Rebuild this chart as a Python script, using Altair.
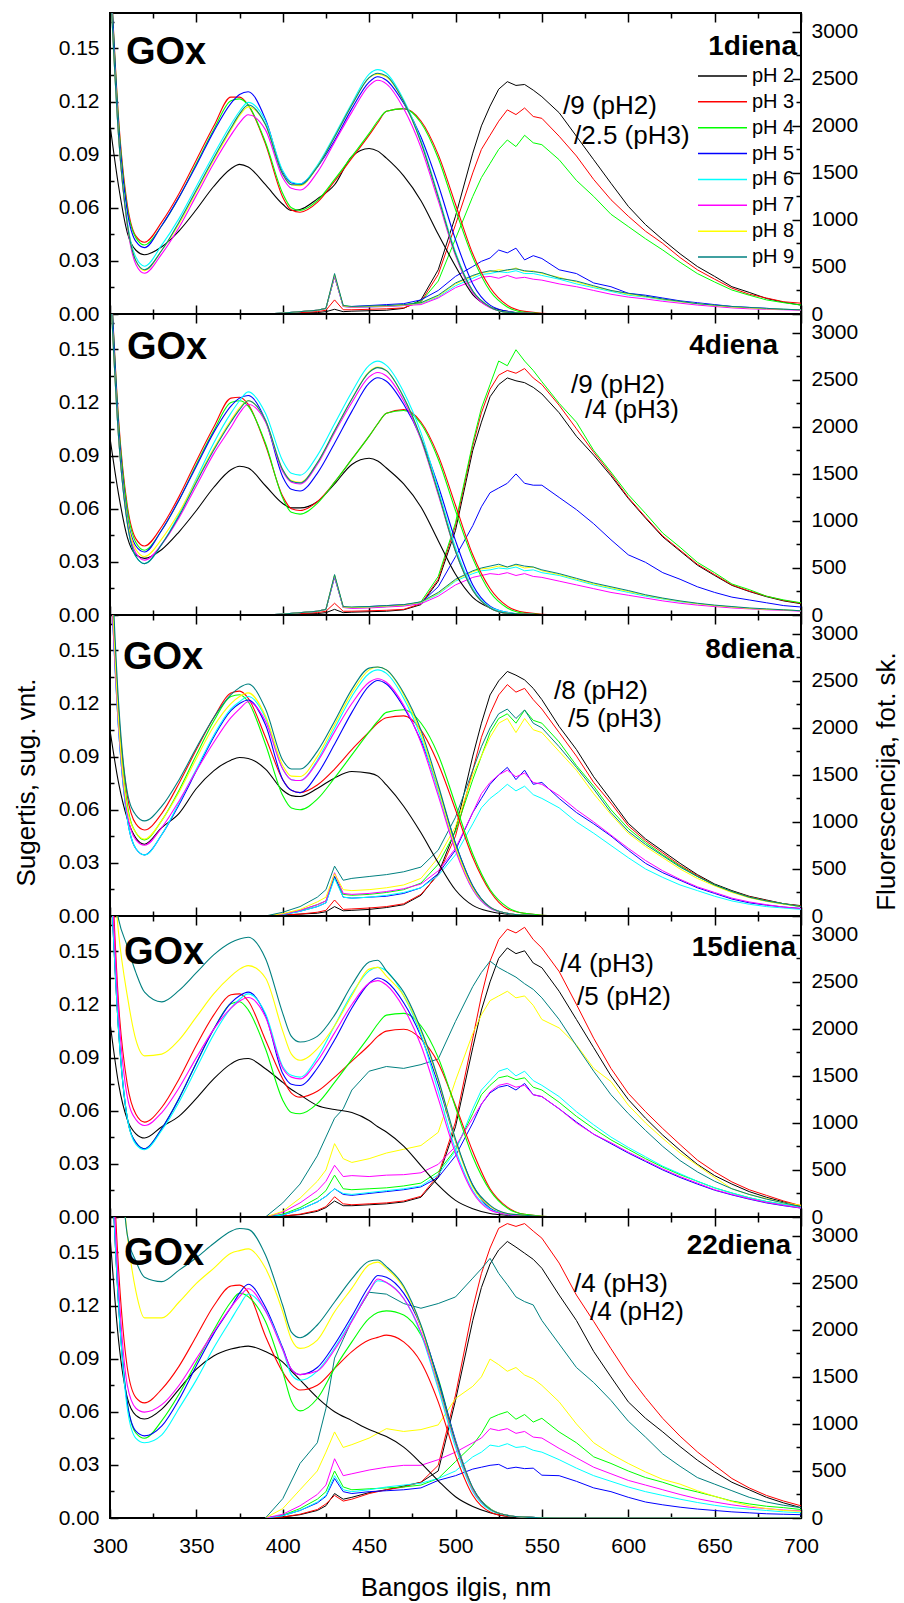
import altair as alt
import pandas as pd

FONT = "Liberation Sans"
PH = ["pH 2", "pH 3", "pH 4", "pH 5", "pH 6", "pH 7", "pH 8", "pH 9"]
COLORS = ["#000000", "#FF0000", "#00FF00", "#0000FF", "#00FFFF", "#FF00FF", "#FFFF00", "#008080"]
DAYS = ["1diena", "4diena", "8diena", "15diena", "22diena"]
NOTES = [("/9 (pH2)", "/2.5 (pH3)"), ("/9 (pH2)", "/4 (pH3)"), ("/8 (pH2)", "/5 (pH3)"),
         ("/4 (pH3)", "/5 (pH2)"), ("/4 (pH3)", "/4 (pH2)")]

X_LABELS = [300, 350, 400, 450, 500, 550, 600, 650, 700]
X_TICKS = [300, 325, 350, 375, 400, 425, 450, 475, 500, 525, 550, 575, 600, 625, 650, 675, 700]
A_LABELS = [0.0, 0.03, 0.06, 0.09, 0.12, 0.15]
A_TICKS = [0.0, 0.015, 0.03, 0.045, 0.06, 0.075, 0.09, 0.105, 0.12, 0.135, 0.15, 0.165]
F_LABELS = [0, 500, 1000, 1500, 2000, 2500, 3000]
F_TICKS = [0, 250, 500, 750, 1000, 1250, 1500, 1750, 2000, 2250, 2500, 2750, 3000]

ABS_X = [300, 305, 310, 315, 320, 330, 340, 350, 360, 370, 375, 380, 390, 400, 405, 410,
         420, 430, 440, 450, 455, 460, 470, 480, 490, 500, 510, 520, 530, 540, 560, 700]
FL_X = [390, 400, 410, 420, 425, 430, 435, 440, 450, 460, 470, 480, 490, 500, 510, 515, 520, 525, 530,
        535, 540, 545, 550, 560, 570, 580, 590, 600, 610, 620, 630, 640, 650, 660, 670, 680, 690, 700]

# ---------------- 1 diena ----------------
abs_1 = {
    "pH 2": [0.107, 0.072, 0.046, 0.036, 0.0335, 0.038, 0.047, 0.059, 0.072, 0.082, 0.0845, 0.083, 0.073, 0.062, 0.0585, 0.059, 0.065, 0.073, 0.089, 0.0935, 0.092, 0.088, 0.078, 0.064, 0.045, 0.027, 0.011, 0.004, 0.0015, 0.0005, 0, 0],
    "pH 3": [0.20, 0.11, 0.062, 0.044, 0.0405, 0.052, 0.068, 0.087, 0.106, 0.1225, 0.1225, 0.118, 0.096, 0.066, 0.0587, 0.0575, 0.063, 0.075, 0.088, 0.101, 0.108, 0.1145, 0.116, 0.109, 0.090, 0.062, 0.034, 0.015, 0.005, 0.0015, 0, 0],
    "pH 4": [0.20, 0.108, 0.060, 0.043, 0.039, 0.050, 0.066, 0.085, 0.104, 0.1205, 0.1215, 0.118, 0.097, 0.068, 0.060, 0.0585, 0.064, 0.076, 0.089, 0.102, 0.109, 0.1145, 0.116, 0.108, 0.088, 0.059, 0.032, 0.013, 0.004, 0.001, 0, 0],
    "pH 5": [0.20, 0.105, 0.058, 0.041, 0.0375, 0.050, 0.066, 0.084, 0.103, 0.119, 0.124, 0.1255, 0.110, 0.080, 0.074, 0.0735, 0.083, 0.098, 0.116, 0.131, 0.134, 0.132, 0.119, 0.100, 0.073, 0.042, 0.017, 0.005, 0.0015, 0.0005, 0, 0],
    "pH 6": [0.19, 0.10, 0.052, 0.032, 0.027, 0.039, 0.054, 0.072, 0.090, 0.107, 0.1145, 0.1195, 0.109, 0.081, 0.0745, 0.0735, 0.084, 0.101, 0.119, 0.1355, 0.138, 0.136, 0.121, 0.098, 0.067, 0.035, 0.013, 0.004, 0.001, 0.0005, 0, 0],
    "pH 7": [0.19, 0.10, 0.050, 0.028, 0.023, 0.034, 0.049, 0.067, 0.085, 0.101, 0.108, 0.1125, 0.104, 0.077, 0.071, 0.070, 0.080, 0.097, 0.114, 0.129, 0.132, 0.130, 0.116, 0.094, 0.064, 0.033, 0.012, 0.0035, 0.001, 0.0005, 0, 0],
    "pH 8": [0.19, 0.10, 0.051, 0.030, 0.0245, 0.036, 0.051, 0.069, 0.087, 0.104, 0.112, 0.117, 0.107, 0.079, 0.073, 0.0725, 0.083, 0.100, 0.118, 0.1335, 0.1355, 0.134, 0.120, 0.097, 0.066, 0.034, 0.013, 0.004, 0.001, 0.0005, 0, 0],
    "pH 9": [0.19, 0.10, 0.051, 0.030, 0.025, 0.036, 0.052, 0.070, 0.088, 0.105, 0.113, 0.118, 0.107, 0.079, 0.073, 0.073, 0.083, 0.100, 0.118, 0.1335, 0.136, 0.1345, 0.120, 0.097, 0.066, 0.034, 0.013, 0.004, 0.001, 0.0005, 0, 0],
}
fl_1 = {
    "pH 2": [0, 5, 10, 15, 25, 50, 25, 30, 35, 40, 60, 150, 470, 1040, 1710, 2000, 2210, 2390, 2470, 2430, 2440, 2380, 2310, 2140, 1890, 1640, 1390, 1145, 950, 790, 640, 505, 400, 290, 230, 165, 125, 95],
    "pH 3": [0, 5, 15, 25, 40, 150, 45, 45, 50, 55, 65, 130, 420, 950, 1500, 1750, 1900, 2050, 2170, 2120, 2190, 2100, 2080, 1890, 1680, 1430, 1215, 1040, 880, 750, 600, 470, 370, 275, 210, 170, 130, 115],
    "pH 4": [0, 10, 25, 40, 60, 400, 90, 75, 80, 85, 95, 130, 350, 800, 1250, 1450, 1600, 1750, 1850, 1780, 1900, 1820, 1800, 1640, 1420, 1250, 1060, 930, 800, 680, 550, 430, 340, 255, 200, 150, 120, 95],
    "pH 5": [0, 10, 25, 40, 60, 400, 80, 80, 90, 100, 110, 150, 250, 400, 505, 560, 595, 680, 650, 700, 575, 620, 590, 470, 430, 330, 290, 220, 200, 170, 140, 120, 100, 80, 70, 60, 50, 45],
    "pH 6": [0, 10, 25, 40, 60, 410, 80, 70, 75, 80, 90, 110, 180, 300, 380, 420, 430, 450, 440, 460, 430, 430, 410, 370, 320, 280, 240, 200, 180, 150, 130, 110, 90, 75, 65, 55, 50, 45],
    "pH 7": [0, 10, 25, 40, 60, 400, 80, 70, 75, 80, 90, 100, 170, 280, 350, 390, 400, 380, 410, 380, 390, 370, 360, 320, 290, 250, 210, 180, 160, 135, 115, 95, 80, 65, 55, 50, 45, 40],
    "pH 8": [0, 10, 25, 40, 60, 420, 85, 75, 80, 85, 95, 115, 190, 320, 400, 440, 450, 470, 460, 490, 450, 460, 430, 390, 340, 290, 250, 210, 185, 155, 130, 110, 90, 75, 65, 55, 50, 45],
    "pH 9": [0, 10, 25, 40, 60, 430, 90, 80, 85, 90, 100, 120, 200, 330, 410, 440, 460, 450, 470, 480, 460, 450, 440, 380, 350, 300, 250, 220, 190, 160, 135, 110, 95, 80, 70, 60, 50, 45],
}

# ---------------- 4 diena ----------------
abs_4 = {
    "pH 2": [0.10, 0.068, 0.044, 0.034, 0.032, 0.037, 0.047, 0.059, 0.072, 0.082, 0.084, 0.083, 0.073, 0.063, 0.0605, 0.0605, 0.064, 0.074, 0.085, 0.0885, 0.087, 0.083, 0.074, 0.061, 0.042, 0.023, 0.010, 0.004, 0.001, 0.0005, 0, 0],
    "pH 3": [0.20, 0.11, 0.062, 0.043, 0.039, 0.050, 0.067, 0.087, 0.106, 0.1225, 0.123, 0.119, 0.096, 0.067, 0.060, 0.059, 0.064, 0.075, 0.088, 0.101, 0.108, 0.114, 0.116, 0.109, 0.090, 0.062, 0.034, 0.015, 0.005, 0.0015, 0, 0],
    "pH 4": [0.20, 0.108, 0.060, 0.041, 0.0366, 0.048, 0.065, 0.085, 0.104, 0.120, 0.121, 0.118, 0.097, 0.066, 0.058, 0.057, 0.063, 0.075, 0.088, 0.101, 0.108, 0.114, 0.1155, 0.108, 0.088, 0.059, 0.032, 0.013, 0.004, 0.001, 0, 0],
    "pH 5": [0.20, 0.105, 0.056, 0.039, 0.0356, 0.048, 0.065, 0.084, 0.103, 0.118, 0.1225, 0.124, 0.110, 0.078, 0.071, 0.070, 0.080, 0.097, 0.115, 0.131, 0.134, 0.132, 0.119, 0.100, 0.073, 0.042, 0.017, 0.005, 0.0015, 0.0005, 0, 0],
    "pH 6": [0.19, 0.10, 0.052, 0.033, 0.029, 0.040, 0.057, 0.077, 0.097, 0.114, 0.121, 0.126, 0.114, 0.087, 0.080, 0.079, 0.090, 0.108, 0.126, 0.141, 0.1434, 0.141, 0.126, 0.103, 0.071, 0.038, 0.015, 0.0045, 0.0015, 0.0005, 0, 0],
    "pH 7": [0.19, 0.10, 0.053, 0.035, 0.031, 0.040, 0.055, 0.073, 0.091, 0.106, 0.114, 0.119, 0.109, 0.081, 0.075, 0.074, 0.085, 0.103, 0.120, 0.1345, 0.137, 0.135, 0.121, 0.099, 0.068, 0.036, 0.014, 0.004, 0.001, 0.0005, 0, 0],
    "pH 8": [0.19, 0.10, 0.054, 0.037, 0.033, 0.043, 0.058, 0.076, 0.094, 0.110, 0.117, 0.121, 0.110, 0.082, 0.076, 0.075, 0.086, 0.104, 0.122, 0.1375, 0.140, 0.138, 0.123, 0.100, 0.069, 0.036, 0.014, 0.004, 0.001, 0.0005, 0, 0],
    "pH 9": [0.19, 0.10, 0.052, 0.033, 0.029, 0.040, 0.056, 0.075, 0.093, 0.109, 0.116, 0.121, 0.110, 0.082, 0.0755, 0.0746, 0.086, 0.104, 0.122, 0.137, 0.1397, 0.138, 0.123, 0.100, 0.069, 0.036, 0.014, 0.004, 0.001, 0.0005, 0, 0],
}
fl_4 = {
    "pH 2": [0, 5, 10, 15, 25, 60, 25, 30, 35, 40, 55, 110, 360, 900, 1750, 2050, 2320, 2450, 2520, 2490, 2470, 2420, 2350, 2150, 1900, 1700, 1480, 1240, 1030, 830, 680, 530, 420, 315, 250, 195, 150, 120],
    "pH 3": [0, 5, 15, 25, 40, 125, 40, 40, 45, 50, 60, 120, 380, 950, 1800, 2150, 2400, 2550, 2600, 2570, 2620, 2520, 2450, 2230, 1980, 1730, 1500, 1250, 1040, 840, 690, 540, 430, 320, 255, 200, 155, 125],
    "pH 4": [0, 10, 25, 40, 60, 420, 80, 80, 85, 90, 100, 140, 410, 980, 1830, 2200, 2450, 2700, 2650, 2820, 2700, 2600, 2480, 2250, 2050, 1750, 1520, 1280, 1080, 870, 720, 560, 450, 330, 270, 200, 160, 130],
    "pH 5": [0, 10, 25, 40, 60, 400, 80, 80, 90, 100, 110, 130, 300, 620, 950, 1150, 1300, 1350, 1400, 1500, 1400, 1380, 1380, 1250, 1120, 970, 800, 640, 560, 450, 380, 300, 240, 190, 160, 130, 100, 85],
    "pH 6": [0, 10, 25, 40, 60, 420, 80, 75, 80, 90, 100, 130, 220, 360, 440, 470, 480, 500, 490, 510, 470, 480, 450, 420, 370, 320, 280, 240, 200, 170, 140, 120, 100, 85, 70, 60, 55, 45],
    "pH 7": [0, 10, 25, 40, 60, 410, 80, 70, 75, 85, 95, 120, 200, 320, 400, 420, 440, 430, 450, 420, 440, 410, 400, 360, 320, 280, 240, 210, 180, 150, 125, 105, 90, 75, 65, 55, 50, 40],
    "pH 8": [0, 10, 25, 40, 60, 425, 85, 80, 85, 95, 105, 135, 230, 370, 460, 490, 500, 520, 510, 530, 500, 510, 470, 430, 380, 330, 290, 250, 210, 175, 145, 120, 100, 85, 70, 60, 55, 45],
    "pH 9": [0, 10, 25, 40, 60, 430, 90, 85, 90, 100, 110, 140, 240, 380, 470, 500, 520, 540, 510, 540, 520, 510, 480, 440, 390, 340, 300, 260, 215, 180, 150, 125, 105, 90, 75, 65, 55, 45],
}

# ---------------- 8 diena ----------------
abs_8 = {
    "pH 2": [0.105, 0.075, 0.055, 0.044, 0.0405, 0.050, 0.058, 0.072, 0.082, 0.088, 0.0895, 0.089, 0.083, 0.071, 0.068, 0.0675, 0.072, 0.078, 0.0816, 0.0807, 0.079, 0.074, 0.062, 0.047, 0.030, 0.0147, 0.006, 0.0025, 0.001, 0.0005, 0, 0],
    "pH 3": [0.21, 0.115, 0.068, 0.052, 0.0486, 0.058, 0.075, 0.094, 0.112, 0.126, 0.127, 0.123, 0.101, 0.077, 0.071, 0.0697, 0.074, 0.083, 0.094, 0.104, 0.109, 0.112, 0.113, 0.105, 0.086, 0.060, 0.033, 0.014, 0.004, 0.0015, 0, 0],
    "pH 4": [0.21, 0.112, 0.063, 0.047, 0.043, 0.054, 0.071, 0.091, 0.110, 0.124, 0.125, 0.121, 0.097, 0.068, 0.061, 0.060, 0.066, 0.078, 0.091, 0.104, 0.110, 0.115, 0.1165, 0.109, 0.091, 0.063, 0.035, 0.015, 0.005, 0.0015, 0, 0],
    "pH 5": [0.20, 0.105, 0.055, 0.038, 0.0345, 0.046, 0.063, 0.082, 0.101, 0.116, 0.120, 0.122, 0.108, 0.077, 0.071, 0.0697, 0.080, 0.097, 0.115, 0.130, 0.133, 0.131, 0.118, 0.099, 0.072, 0.041, 0.017, 0.005, 0.0015, 0.0005, 0, 0],
    "pH 6": [0.20, 0.105, 0.055, 0.038, 0.0345, 0.046, 0.064, 0.083, 0.102, 0.117, 0.121, 0.124, 0.112, 0.083, 0.077, 0.0765, 0.088, 0.106, 0.124, 0.137, 0.139, 0.137, 0.123, 0.101, 0.070, 0.038, 0.015, 0.0045, 0.0015, 0.0005, 0, 0],
    "pH 7": [0.20, 0.107, 0.058, 0.043, 0.040, 0.050, 0.065, 0.082, 0.098, 0.112, 0.117, 0.121, 0.110, 0.083, 0.077, 0.0765, 0.087, 0.104, 0.120, 0.132, 0.134, 0.132, 0.119, 0.098, 0.068, 0.037, 0.015, 0.0045, 0.0015, 0.0005, 0, 0],
    "pH 8": [0.21, 0.11, 0.061, 0.047, 0.0434, 0.054, 0.070, 0.089, 0.107, 0.120, 0.124, 0.126, 0.113, 0.085, 0.079, 0.0788, 0.090, 0.108, 0.126, 0.139, 0.1406, 0.139, 0.125, 0.103, 0.072, 0.039, 0.016, 0.005, 0.0015, 0.0005, 0, 0],
    "pH 9": [0.22, 0.12, 0.070, 0.057, 0.0537, 0.062, 0.077, 0.095, 0.112, 0.125, 0.129, 0.131, 0.117, 0.088, 0.083, 0.083, 0.093, 0.110, 0.128, 0.140, 0.1406, 0.139, 0.126, 0.105, 0.074, 0.041, 0.017, 0.005, 0.0015, 0.0005, 0, 0],
}
fl_8 = {
    "pH 2": [0, 10, 20, 30, 45, 100, 55, 60, 70, 90, 120, 220, 450, 915, 1700, 2050, 2350, 2500, 2600, 2560, 2510, 2420, 2300, 2015, 1770, 1480, 1235, 985, 820, 690, 560, 440, 340, 270, 210, 170, 130, 110],
    "pH 3": [0, 10, 20, 40, 60, 170, 70, 75, 85, 100, 130, 230, 440, 850, 1550, 1900, 2150, 2350, 2460, 2380, 2420, 2300, 2200, 1950, 1700, 1420, 1200, 960, 800, 670, 540, 430, 330, 260, 205, 165, 130, 105],
    "pH 4": [0, 20, 60, 120, 160, 420, 230, 220, 230, 250, 280, 350, 550, 900, 1450, 1700, 1950, 2100, 2150, 2050, 2190, 2080, 2050, 1850, 1600, 1380, 1130, 930, 780, 650, 530, 420, 330, 260, 200, 160, 130, 100],
    "pH 5": [0, 15, 50, 100, 140, 420, 200, 190, 200, 210, 240, 300, 450, 700, 1100, 1250, 1400, 1500, 1580, 1450, 1550, 1400, 1420, 1250, 1100, 980, 850, 700, 560, 460, 380, 300, 240, 180, 140, 115, 95, 80],
    "pH 6": [0, 15, 50, 100, 140, 400, 200, 190, 200, 220, 250, 300, 430, 650, 980, 1150, 1250, 1320, 1400, 1330, 1380, 1290, 1250, 1150, 1000, 880, 750, 620, 500, 410, 330, 270, 210, 160, 125, 100, 85, 70],
    "pH 7": [0, 20, 60, 120, 160, 460, 240, 230, 240, 260, 290, 340, 480, 720, 1100, 1300, 1420, 1500, 1550, 1480, 1520, 1420, 1400, 1280, 1130, 1000, 860, 720, 590, 480, 390, 310, 250, 190, 150, 120, 95, 80],
    "pH 8": [0, 25, 70, 150, 200, 450, 280, 270, 280, 300, 330, 400, 620, 950, 1500, 1700, 1900, 2050, 2100, 1950, 2100, 1980, 1950, 1750, 1550, 1300, 1080, 880, 740, 620, 500, 400, 320, 250, 195, 155, 125, 100],
    "pH 9": [0, 40, 100, 200, 280, 530, 380, 400, 420, 440, 470, 520, 700, 1050, 1550, 1800, 2000, 2150, 2200, 2100, 2190, 2050, 2000, 1800, 1580, 1350, 1100, 900, 760, 640, 520, 420, 330, 260, 200, 160, 130, 100],
}

# ---------------- 15 diena ----------------
abs_15 = {
    "pH 2": [0.11, 0.075, 0.055, 0.047, 0.0446, 0.051, 0.057, 0.067, 0.078, 0.0865, 0.089, 0.0895, 0.0837, 0.076, 0.072, 0.069, 0.063, 0.0607, 0.059, 0.0545, 0.051, 0.048, 0.040, 0.029, 0.018, 0.0094, 0.0047, 0.002, 0.001, 0.0005, 0, 0],
    "pH 3": [0.22, 0.12, 0.075, 0.058, 0.0536, 0.062, 0.078, 0.097, 0.114, 0.1255, 0.126, 0.122, 0.100, 0.078, 0.070, 0.0677, 0.071, 0.079, 0.088, 0.097, 0.102, 0.105, 0.106, 0.1006, 0.087, 0.063, 0.037, 0.016, 0.0056, 0.0015, 0, 0],
    "pH 4": [0.20, 0.105, 0.056, 0.042, 0.0385, 0.050, 0.067, 0.087, 0.106, 0.1205, 0.1216, 0.117, 0.095, 0.066, 0.059, 0.0583, 0.064, 0.076, 0.089, 0.102, 0.109, 0.114, 0.115, 0.108, 0.090, 0.062, 0.034, 0.015, 0.005, 0.0015, 0, 0],
    "pH 5": [0.20, 0.105, 0.056, 0.042, 0.0385, 0.050, 0.067, 0.087, 0.106, 0.121, 0.125, 0.127, 0.114, 0.081, 0.075, 0.0743, 0.084, 0.100, 0.118, 0.132, 0.135, 0.133, 0.121, 0.102, 0.075, 0.043, 0.018, 0.005, 0.0015, 0.0005, 0, 0],
    "pH 6": [0.20, 0.105, 0.056, 0.041, 0.038, 0.049, 0.065, 0.084, 0.103, 0.118, 0.123, 0.126, 0.115, 0.085, 0.080, 0.079, 0.090, 0.108, 0.126, 0.139, 0.141, 0.139, 0.125, 0.103, 0.071, 0.038, 0.015, 0.0045, 0.0015, 0.0005, 0, 0],
    "pH 7": [0.21, 0.115, 0.068, 0.055, 0.0517, 0.059, 0.073, 0.090, 0.106, 0.118, 0.122, 0.124, 0.113, 0.084, 0.079, 0.078, 0.088, 0.104, 0.120, 0.132, 0.1335, 0.131, 0.118, 0.097, 0.067, 0.036, 0.014, 0.004, 0.0015, 0.0005, 0, 0],
    "pH 8": [0.22, 0.160, 0.125, 0.100, 0.091, 0.092, 0.100, 0.113, 0.126, 0.136, 0.140, 0.142, 0.135, 0.105, 0.092, 0.0885, 0.095, 0.108, 0.125, 0.140, 0.141, 0.136, 0.125, 0.105, 0.077, 0.043, 0.017, 0.006, 0.002, 0.001, 0, 0],
    "pH 9": [0.20, 0.168, 0.153, 0.138, 0.127, 0.1215, 0.128, 0.138, 0.148, 0.155, 0.157, 0.158, 0.146, 0.115, 0.102, 0.0988, 0.102, 0.114, 0.131, 0.144, 0.145, 0.139, 0.127, 0.106, 0.078, 0.044, 0.018, 0.0066, 0.002, 0.001, 0, 0],
}
fl_15 = {
    "pH 2": [0, 10, 25, 60, 100, 170, 120, 120, 130, 140, 160, 210, 420, 960, 1800, 2200, 2500, 2750, 2860, 2800, 2830, 2700, 2650, 2400, 2100, 1800, 1500, 1250, 1050, 870, 710, 560, 440, 350, 270, 210, 160, 110],
    "pH 3": [0, 10, 30, 70, 110, 215, 140, 130, 140, 150, 170, 220, 445, 1010, 1900, 2350, 2720, 2950, 3060, 3020, 3080, 2950, 2860, 2610, 2260, 1900, 1580, 1315, 1120, 940, 770, 605, 480, 373, 290, 230, 170, 120],
    "pH 4": [0, 30, 100, 200, 280, 445, 300, 290, 300, 310, 330, 360, 480, 720, 1100, 1300, 1400, 1480, 1500, 1460, 1480, 1380, 1350, 1220, 1070, 940, 820, 720, 620, 530, 450, 380, 310, 255, 205, 165, 135, 105],
    "pH 5": [0, 20, 80, 160, 220, 300, 240, 230, 250, 270, 290, 320, 420, 650, 1000, 1200, 1320, 1380, 1400, 1350, 1420, 1300, 1280, 1150, 1010, 880, 780, 680, 590, 500, 420, 350, 285, 235, 190, 150, 120, 95],
    "pH 6": [0, 20, 80, 160, 220, 300, 250, 240, 260, 280, 300, 330, 450, 700, 1150, 1350, 1450, 1550, 1580, 1500, 1550, 1450, 1400, 1280, 1120, 980, 850, 740, 640, 540, 460, 380, 310, 255, 205, 165, 135, 105],
    "pH 7": [0, 50, 150, 280, 380, 550, 430, 440, 430, 445, 450, 470, 560, 750, 1050, 1200, 1330, 1400, 1420, 1380, 1400, 1300, 1280, 1150, 1000, 880, 790, 690, 600, 510, 430, 360, 290, 240, 195, 155, 125, 95],
    "pH 8": [0, 60, 200, 380, 500, 780, 620, 580, 620, 680, 720, 760, 900, 1450, 1950, 2150, 2300, 2350, 2400, 2330, 2350, 2250, 2100, 2010, 1830, 1580, 1440, 1190, 1000, 835, 680, 550, 420, 300, 240, 195, 150, 125],
    "pH 9": [0, 150, 350, 650, 850, 1050, 1150, 1350, 1550, 1600, 1580, 1620, 1680, 2080, 2450, 2600, 2720, 2650, 2600, 2550, 2480, 2420, 2330, 2100, 1820, 1550, 1300, 1100, 920, 750, 600, 480, 380, 300, 240, 190, 150, 110],
}

# ---------------- 22 diena ----------------
abs_22 = {
    "pH 2": [0.16, 0.10, 0.068, 0.058, 0.0559, 0.0615, 0.0728, 0.0841, 0.0915, 0.0954, 0.0965, 0.0971, 0.094, 0.088, 0.083, 0.078, 0.068, 0.060, 0.055, 0.050, 0.048, 0.046, 0.040, 0.031, 0.021, 0.012, 0.0065, 0.003, 0.001, 0.0005, 0, 0],
    "pH 3": [0.24, 0.14, 0.085, 0.068, 0.065, 0.0728, 0.0858, 0.1027, 0.1197, 0.131, 0.1315, 0.1276, 0.1027, 0.0824, 0.0755, 0.0723, 0.075, 0.0845, 0.094, 0.1005, 0.102, 0.1033, 0.0995, 0.088, 0.0656, 0.0354, 0.0128, 0.0034, 0.001, 0.0005, 0, 0],
    "pH 4": [0.22, 0.12, 0.065, 0.048, 0.045, 0.055, 0.070, 0.088, 0.106, 0.122, 0.127, 0.125, 0.111, 0.0826, 0.066, 0.0605, 0.0675, 0.0845, 0.0995, 0.1127, 0.116, 0.117, 0.1146, 0.1033, 0.0788, 0.043, 0.0166, 0.0053, 0.0015, 0.0005, 0, 0],
    "pH 5": [0.22, 0.12, 0.065, 0.049, 0.0464, 0.052, 0.067, 0.086, 0.104, 0.119, 0.127, 0.132, 0.119, 0.096, 0.084, 0.081, 0.085, 0.098, 0.114, 0.131, 0.137, 0.136, 0.127, 0.108, 0.078, 0.044, 0.017, 0.005, 0.0015, 0.0005, 0, 0],
    "pH 6": [0.22, 0.12, 0.062, 0.045, 0.0425, 0.047, 0.062, 0.078, 0.096, 0.112, 0.120, 0.1265, 0.117, 0.095, 0.081, 0.0778, 0.083, 0.096, 0.112, 0.128, 0.134, 0.133, 0.124, 0.104, 0.073, 0.040, 0.015, 0.0045, 0.0015, 0.0005, 0, 0],
    "pH 7": [0.23, 0.13, 0.075, 0.062, 0.0598, 0.064, 0.075, 0.090, 0.105, 0.119, 0.125, 0.1295, 0.117, 0.095, 0.084, 0.081, 0.083, 0.095, 0.111, 0.128, 0.135, 0.133, 0.124, 0.105, 0.075, 0.042, 0.016, 0.005, 0.0015, 0.0005, 0, 0],
    "pH 8": [0.25, 0.21, 0.16, 0.128, 0.113, 0.113, 0.122, 0.1325, 0.141, 0.1495, 0.151, 0.152, 0.141, 0.1165, 0.101, 0.0958, 0.1005, 0.1165, 0.1297, 0.143, 0.1445, 0.141, 0.130, 0.108, 0.076, 0.043, 0.0166, 0.005, 0.0015, 0.0005, 0, 0],
    "pH 9": [0.25, 0.21, 0.16, 0.145, 0.136, 0.1335, 0.140, 0.147, 0.155, 0.162, 0.1635, 0.163, 0.1485, 0.120, 0.105, 0.1018, 0.109, 0.122, 0.135, 0.145, 0.1457, 0.142, 0.131, 0.109, 0.077, 0.043, 0.017, 0.005, 0.0015, 0.0005, 0, 0],
}
fl_22 = {
    "pH 2": [0, 10, 35, 80, 130, 260, 200, 220, 270, 300, 340, 380, 500, 1250, 2100, 2450, 2700, 2850, 2940, 2880, 2815, 2750, 2655, 2370, 2100, 1770, 1500, 1235, 1060, 915, 760, 615, 490, 380, 300, 220, 160, 110],
    "pH 3": [0, 10, 40, 90, 150, 240, 180, 200, 260, 300, 330, 380, 560, 1306, 2230, 2600, 2870, 3080, 3130, 3100, 3130, 3050, 2975, 2710, 2370, 2090, 1800, 1520, 1280, 1058, 870, 703, 560, 420, 320, 240, 180, 130],
    "pH 4": [0, 30, 100, 200, 280, 500, 330, 300, 310, 320, 330, 350, 420, 600, 775, 900, 1060, 1100, 1130, 1050, 1100, 1020, 1060, 915, 800, 650, 580, 500, 430, 380, 320, 277, 230, 180, 150, 125, 110, 90],
    "pH 5": [0, 25, 80, 160, 230, 420, 280, 260, 280, 290, 300, 320, 400, 450, 520, 540, 560, 570, 525, 540, 525, 530, 455, 450, 390, 320, 280, 220, 170, 140, 115, 95, 80, 65, 55, 45, 40, 35],
    "pH 6": [0, 25, 80, 170, 240, 450, 300, 280, 300, 330, 350, 370, 420, 500, 650, 700, 775, 760, 790, 750, 760, 720, 700, 620, 530, 450, 390, 330, 280, 240, 200, 165, 135, 110, 95, 80, 65, 55],
    "pH 7": [0, 40, 130, 250, 350, 630, 450, 470, 510, 540, 560, 560, 620, 700, 800, 850, 950, 930, 950, 900, 920, 860, 850, 740, 640, 540, 470, 400, 350, 300, 250, 205, 170, 140, 115, 100, 85, 75],
    "pH 8": [0, 100, 300, 500, 700, 915, 750, 780, 850, 950, 920, 940, 990, 1270, 1400, 1500, 1690, 1630, 1560, 1600, 1520, 1480, 1410, 1235, 1000, 800, 680, 580, 490, 410, 360, 290, 230, 175, 130, 100, 80, 70],
    "pH 9": [0, 205, 580, 800, 1165, 1700, 1900, 2100, 2400, 2380, 2280, 2230, 2280, 2350, 2550, 2650, 2760, 2600, 2480, 2350, 2300, 2265, 2100, 1850, 1600, 1440, 1250, 1030, 860, 680, 550, 430, 360, 290, 220, 170, 135, 110],
}

ABS = [abs_1, abs_4, abs_8, abs_15, abs_22]
FL = [fl_1, fl_4, fl_8, fl_15, fl_22]

# layout (pixels, relative to each panel's plot area)
W, H = 691, 301
GOX_POS = [(16, 51), (17, 45), (13, 54), (14, 48), (14, 48)]
DAY_POS = [(687, 42), (668, 40), (684, 43), (686, 40), (681, 37)]
NOTE_POS = [((453, 93), (464, 123)), ((461, 71), (475, 96)), ((444, 76), (458, 104)),
            ((450, 48), (467, 81)), ((464, 67), (480, 95))]
LEGEND_ROWS = [63, 244]          # pixel range of the legend rows (first, last)
LEGEND_LINE = (588, 637)         # pixel x-span of the legend line samples
LEGEND_TEXT_X = 642


def long_df(xs, series):
    rows = []
    for ph in PH:
        vals = series[ph]
        assert len(vals) == len(xs), (ph, len(vals), len(xs))
        for x, v in zip(xs, vals):
            rows.append({"nm": x, "v": v, "ph": ph})
    return pd.DataFrame(rows)


xscale = alt.Scale(domain=[300, 700], nice=False, zero=False)
ascale = alt.Scale(domain=[0, 0.17], nice=False, zero=False)
fscale = alt.Scale(domain=[0, 3200], nice=False, zero=False)
cscale = alt.Scale(domain=PH, range=COLORS)


def tick_axis(orient, values, test, big, small):
    off = -H if orient in ("top", "bottom") else -W
    return alt.Axis(orient=orient, offset=off, values=values, labels=False, domain=False,
                    grid=False, title=None, ticks=True, tickColor="black", tickWidth=1.5,
                    tickSize={"condition": {"test": test, "value": big}, "value": small})


def text_layer(text, x, y, size, weight="normal", align="left", baseline="alphabetic"):
    return alt.Chart(alt.Data(values=[{"k": 1}])).mark_text(
        text=text, fontSize=size, fontWeight=weight, align=align, baseline=baseline,
        font=FONT, color="black").encode(x=alt.value(x), y=alt.value(y))


def legend_layers():
    leg = pd.DataFrame({"ph": PH})
    ly = alt.Y("ph:N", scale=alt.Scale(type="point", domain=PH, range=LEGEND_ROWS, padding=0),
               axis=None)
    rules = alt.Chart(leg).mark_rule(strokeWidth=1.5).encode(
        x=alt.value(LEGEND_LINE[0]), x2=alt.value(LEGEND_LINE[1]), y=ly,
        color=alt.Color("ph:N", scale=cscale, legend=None))
    labels = alt.Chart(leg).mark_text(align="left", baseline="middle", fontSize=20, font=FONT,
                                      color="black").encode(
        x=alt.value(LEGEND_TEXT_X), y=ly, text="ph:N")
    return [rules, labels]


def panel(k):
    a_df = long_df(ABS_X, ABS[k])
    f_df = long_df(FL_X, FL[k])

    a_axis_kw = dict(orient="left", values=A_LABELS, format=".2f", ticks=False, tickSize=0,
                     domain=False, grid=False, labelFontSize=21, labelPadding=11, labelColor="black")
    f_axis_kw = dict(orient="right", values=F_LABELS, format="d", ticks=False, tickSize=0,
                     domain=False, grid=False, labelFontSize=21, labelPadding=10, labelColor="black")
    if k == 2:
        a_axis_kw.update(title="Sugertis, sug. vnt.", titleFontSize=26, titleFontWeight="normal",
                         titleAngle=270, titleX=-84, titleY=167, titleBaseline="middle",
                         titleAlign="center", titleColor="black")
        f_axis_kw.update(title="Fluorescencija, fot. sk.", titleFontSize=26, titleFontWeight="normal",
                         titleAngle=270, titleX=85, titleY=166, titleBaseline="middle",
                         titleAlign="center", titleColor="black")
    else:
        a_axis_kw.update(title=None)
        f_axis_kw.update(title=None)

    l_fl = alt.Chart(f_df).mark_line(clip=True, strokeWidth=1.0).encode(
        x=alt.X("nm:Q", scale=xscale, axis=tick_axis("top", X_TICKS, "datum.value % 50 === 0", 9, 5)),
        y=alt.Y("v:Q", scale=fscale, axis=alt.Axis(**f_axis_kw)),
        color=alt.Color("ph:N", scale=cscale, legend=None),
    )
    l_abs = alt.Chart(a_df).mark_line(clip=True, strokeWidth=1.1, interpolate="monotone").encode(
        x=alt.X("nm:Q", scale=xscale, axis=tick_axis("bottom", X_TICKS, "datum.value % 50 === 0", 9, 5)),
        y=alt.Y("v:Q", scale=ascale, axis=alt.Axis(**a_axis_kw)),
        color=alt.Color("ph:N", scale=cscale, legend=None),
    )

    helper = pd.DataFrame({"nm": [300, 700], "a": [0.0, 0.15], "f": [0, 3000]})
    if k == 4:
        x_axis = alt.Axis(orient="bottom", values=X_LABELS, format="d", ticks=False, tickSize=0,
                          domain=False, grid=False, labelFontSize=21, labelPadding=17,
                          labelFlush=False, labelColor="black", title="Bangos ilgis, nm",
                          titleFontSize=26, titleFontWeight="normal", titleBaseline="top",
                          titleY=56, titleColor="black")
    else:
        x_axis = None
    l_ha = alt.Chart(helper).mark_point(opacity=0, size=1).encode(
        x=alt.X("nm:Q", scale=xscale, axis=x_axis),
        y=alt.Y("a:Q", scale=ascale,
                axis=tick_axis("right", A_TICKS, "round(datum.value * 1000) % 30 === 0", 8, 4)),
    )
    l_hf = alt.Chart(helper).mark_point(opacity=0, size=1).encode(
        x=alt.X("nm:Q", scale=xscale, axis=None),
        y=alt.Y("f:Q", scale=fscale,
                axis=tick_axis("left", F_TICKS, "datum.value % 500 === 0", 9, 5)),
    )

    extra = [
        text_layer("GOx", GOX_POS[k][0], GOX_POS[k][1], 38, "bold"),
        text_layer(DAYS[k], DAY_POS[k][0], DAY_POS[k][1], 28, "bold", "right"),
    ]
    for note, pos in zip(NOTES[k], NOTE_POS[k]):
        extra.append(text_layer(note, pos[0], pos[1], 26, "normal", "left", "middle"))
    if k == 0:
        extra += legend_layers()

    return alt.layer(l_fl, l_abs, l_ha, l_hf, *extra).resolve_scale(
        y="independent").resolve_axis(x="independent", y="independent").properties(width=W, height=H)


chart = alt.vconcat(*[panel(k) for k in range(5)], spacing=0, bounds="flush",
                    padding={"left": 12, "top": 11, "right": 0, "bottom": 0}).resolve_scale(
    color="independent").configure(
    font=FONT).configure_view(stroke="black", strokeWidth=2).configure_axis(
    labelFont=FONT, titleFont=FONT).configure_text(font=FONT)

chart.save("out.html", embed_options={"renderer": "svg", "actions": False})
